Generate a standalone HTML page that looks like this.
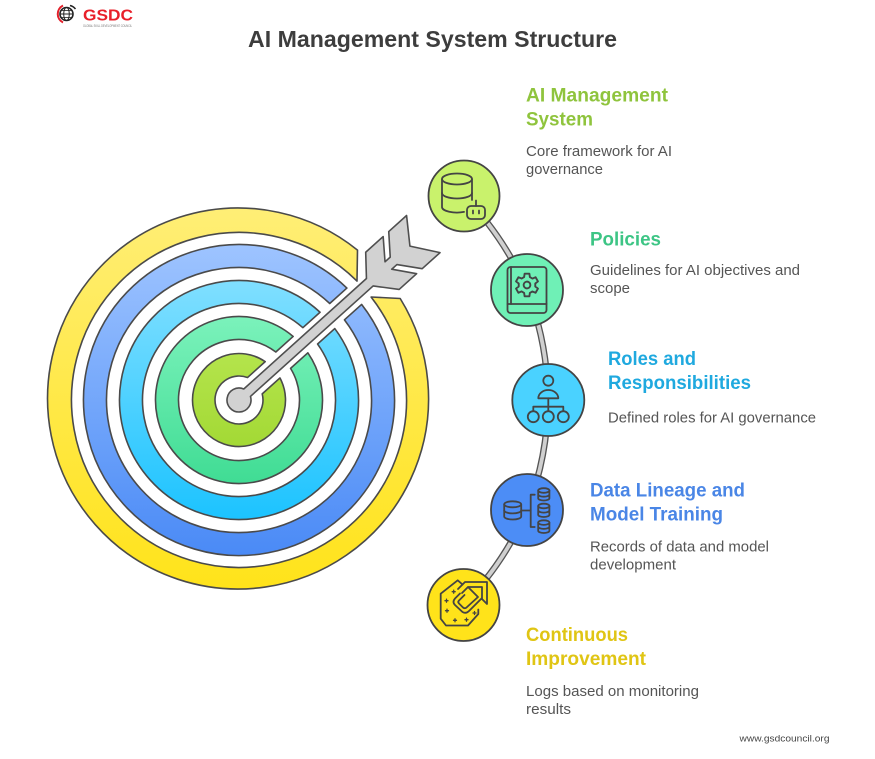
<!DOCTYPE html>
<html>
<head>
<meta charset="utf-8">
<style>
  html,body{margin:0;padding:0;background:#fff;}
  body{width:875px;height:759px;overflow:hidden;}
  svg{display:block;}
  .t{font-family:"Liberation Sans",Arial,sans-serif;}
</style>
</head>
<body>
<svg width="875" height="759" viewBox="0 0 875 759" xmlns="http://www.w3.org/2000/svg">
  <defs>
    <linearGradient id="gY" x1="0" y1="0" x2="0" y2="1">
      <stop offset="0" stop-color="#FFEE76"/>
      <stop offset="1" stop-color="#FFE31A"/>
    </linearGradient>
    <linearGradient id="gB" x1="0" y1="0" x2="0" y2="1">
      <stop offset="0" stop-color="#9EC4FF"/>
      <stop offset="1" stop-color="#4A8AF6"/>
    </linearGradient>
    <linearGradient id="gC" x1="0" y1="0" x2="0" y2="1">
      <stop offset="0" stop-color="#80DFFF"/>
      <stop offset="1" stop-color="#1CC3FF"/>
    </linearGradient>
    <linearGradient id="gG" x1="0" y1="0" x2="0" y2="1">
      <stop offset="0" stop-color="#7BF2BB"/>
      <stop offset="1" stop-color="#40DC94"/>
    </linearGradient>
    <linearGradient id="gL" x1="0" y1="0" x2="0" y2="1">
      <stop offset="0" stop-color="#B4E44C"/>
      <stop offset="1" stop-color="#A3D935"/>
    </linearGradient>
  </defs>

  <rect x="0" y="0" width="875" height="759" fill="#fff"/>

  <!-- Logo -->
  <g>
    <circle cx="66.5" cy="14" r="6.5" fill="none" stroke="#222" stroke-width="1.6"/>
    <ellipse cx="66.5" cy="14" rx="2.8" ry="6.5" fill="none" stroke="#222" stroke-width="1"/>
    <line x1="60" y1="14" x2="73" y2="14" stroke="#222" stroke-width="1"/>
    <line x1="61.5" y1="10.5" x2="71.5" y2="10.5" stroke="#222" stroke-width="0.8"/>
    <line x1="61.5" y1="17.5" x2="71.5" y2="17.5" stroke="#222" stroke-width="0.8"/>
    <path d="M 63 5.5 A 9.5 9.5 0 0 0 63 22.5" fill="none" stroke="#E3202A" stroke-width="2"/>
    <path d="M 70 5.5 A 9.5 9.5 0 0 1 75.5 9" fill="none" stroke="#222" stroke-width="1.5"/>
    <text class="t" x="83" y="20.5" font-size="16" font-weight="bold" fill="#E8202A" textLength="50" lengthAdjust="spacingAndGlyphs">GSDC</text>
    <text class="t" x="83" y="26.8" font-size="3.6" fill="#777" textLength="49" lengthAdjust="spacingAndGlyphs">GLOBAL SKILL DEVELOPMENT COUNCIL</text>
  </g>

  <!-- Title -->
  <text class="t" x="248" y="47" font-size="23" font-weight="bold" fill="#3d3d3d" textLength="369" lengthAdjust="spacingAndGlyphs">AI Management System Structure</text>

  <!-- Target rings -->
  <g stroke="#4a4a4a" stroke-width="1.6" stroke-linejoin="round">
    <path fill="url(#gY)" d="M 357.5 250.1 A 190.5 190.5 0 1 0 400.2 298.5 L 371.1 297 A 167.5 167.5 0 1 1 357 281.1 Z"/>
    <path fill="url(#gB)" d="M 346.88 288.07 A 155.5 155.5 0 1 0 361.6 304.41 L 344.47 319.84 A 132.5 132.5 0 1 1 329.75 303.5 Z"/>
    <path fill="url(#gC)" d="M 320.05 312.23 A 119.5 119.5 0 1 0 334.77 328.57 L 317.59 344.03 A 96.5 96.5 0 1 1 302.87 327.69 Z"/>
    <path fill="url(#gG)" d="M 293.14 336.46 A 83.5 83.5 0 1 0 307.86 352.8 L 290.56 368.37 A 60.5 60.5 0 1 1 275.84 352.03 Z"/>
    <path fill="url(#gL)" d="M 265.21 361.6 A 46.5 46.5 0 1 0 279.93 377.94 L 262.21 393.9 A 24 24 0 1 1 247.49 377.56 Z"/>
  </g>

  <!-- Arrow -->
  <g transform="translate(239 400) rotate(-42)">
    <path fill="#D2D2D2" stroke="#4f4f4f" stroke-width="1.6" stroke-linejoin="round"
      d="M 10.9 -5 L 176 -5 L 193 -25 L 216.5 -25 L 201 -5 L 208 -5 L 224 -25 L 248 -25 L 230 0 L 248 25 L 224 25 L 208 5 L 201 5 L 216.5 25 L 193 25 L 176 5 L 10.9 5 A 12 12 0 1 1 10.9 -5 Z"/>
  </g>

  <!-- Connector -->
  <path d="M 464 196 A 307 307 0 0 1 527 290 A 307 307 0 0 1 548 400 A 307 307 0 0 1 527 510 A 307 307 0 0 1 463 605" fill="none" stroke="#555" stroke-width="6.5"/>
  <path d="M 464 196 A 307 307 0 0 1 527 290 A 307 307 0 0 1 548 400 A 307 307 0 0 1 527 510 A 307 307 0 0 1 463 605" fill="none" stroke="#D0D0D0" stroke-width="3.8"/>

  <!-- Nodes -->
  <g stroke="#444" stroke-width="1.8">
    <circle cx="464" cy="196" r="35.5" fill="#C9F26C"/>
    <circle cx="527" cy="290" r="36" fill="#6FF0B6"/>
    <circle cx="548.3" cy="400" r="36" fill="#4AD2FF"/>
    <circle cx="527" cy="510" r="36" fill="#4C8DF6"/>
    <circle cx="463.5" cy="605" r="36" fill="#FFE31A"/>
  </g>

  <!-- Icons -->
  <g fill="none" stroke="#444" stroke-width="1.8" stroke-linecap="round" stroke-linejoin="round">
    <!-- Node1: database + robot -->
    <ellipse cx="457" cy="179" rx="15" ry="5.5"/>
    <path d="M 442 179 V 207 A 15 5.5 0 0 0 464 211.9"/>
    <path d="M 472 179 V 200"/>
    <path d="M 442 193 A 15 5.5 0 0 0 472 193"/>
    <rect x="467" y="206" width="18" height="13" rx="4"/>
    <path d="M 476 200.5 V 206"/>
    <path d="M 473 210.5 V 213.5 M 479 210.5 V 213.5"/>

    <!-- Node2: book + gear -->
    <rect x="507.5" y="267" width="39" height="46" rx="3"/>
    <path d="M 507.5 304 H 546.5"/>
    <path d="M 511 267 V 304"/>
    <g transform="translate(527 285) rotate(30) scale(1.05)">
      <path d="M 7.52 -2.74 L 10.76 -2.29 L 10.76 2.29 L 7.52 2.74 L 6.13 5.14 L 7.36 8.17 L 3.40 10.46 L 1.39 7.88 L -1.39 7.88 L -3.40 10.46 L -7.36 8.17 L -6.13 5.14 L -7.52 2.74 L -10.76 2.29 L -10.76 -2.29 L -7.52 -2.74 L -6.13 -5.14 L -7.36 -8.17 L -3.40 -10.46 L -1.39 -7.88 L 1.39 -7.88 L 3.40 -10.46 L 7.36 -8.17 L 6.13 -5.14 Z"/>
      <circle cx="0" cy="0" r="3.2"/>
    </g>

    <!-- Node3: org chart -->
    <circle cx="548.3" cy="380.7" r="5"/>
    <path d="M 538.3 398.3 A 10 8.3 0 0 1 558.3 398.3 Z"/>
    <path d="M 548.3 398.3 V 411 M 533.3 411 V 406.7 H 563.3 V 411"/>
    <circle cx="533.3" cy="416.7" r="5.5"/>
    <circle cx="548.3" cy="416.7" r="5.5"/>
    <circle cx="563.3" cy="416.7" r="5.5"/>

    <!-- Node4: data lineage -->
    <ellipse cx="512.7" cy="504.3" rx="8.5" ry="3"/>
    <path d="M 504.2 504.3 V 516.5 A 8.5 3 0 0 0 521.2 516.5 V 504.3"/>
    <path d="M 504.2 510.4 A 8.5 3 0 0 0 521.2 510.4"/>
    <path d="M 521.3 510.5 H 530.7"/>
    <path d="M 534.7 494.7 H 530.7 V 527 H 534.7"/>
    <ellipse cx="543.8" cy="490.5" rx="5.6" ry="2.3"/>
    <path d="M 538.2 490.5 V 498.2 A 5.6 2.3 0 0 0 549.4 498.2 V 490.5 M 538.2 494.4 A 5.6 2.3 0 0 0 549.4 494.4"/>
    <ellipse cx="543.8" cy="506" rx="5.6" ry="2.3"/>
    <path d="M 538.2 506 V 514.7 A 5.6 2.3 0 0 0 549.4 514.7 V 506 M 538.2 510.3 A 5.6 2.3 0 0 0 549.4 510.3"/>
    <ellipse cx="543.8" cy="522.6" rx="5.6" ry="2.3"/>
    <path d="M 538.2 522.6 V 530.7 A 5.6 2.3 0 0 0 549.4 530.7 V 522.6 M 538.2 526.6 A 5.6 2.3 0 0 0 549.4 526.6"/>

    <!-- Node5: continuous improvement -->
    <path d="M 462.5 584.5 L 457.7 580.3 L 440.7 593.7 L 440.7 618.7 L 446 625.5 L 468 625.5 L 478.3 614 L 478.3 609.5"/>
    <path d="M 458 589 L 465 582 L 487 582 L 487 604 L 481.5 598.5 L 469 611 Q 466 614 462.5 612 L 455 605 Q 452 602 455 598.5 L 460 593.5"/>
    <path d="M 462 593 L 468 587 L 482 587 L 482 599 M 468 587 L 478 597 L 466.5 607.5 Q 465 609 463 607.5 L 459 603.5 Q 457.5 602 459 600.5 L 464.5 595"/>
  </g>
  <g stroke="#444" stroke-width="1.3" stroke-linecap="round">
    <path d="M 453.7 590.2 V 593.2 M 452.2 591.7 H 455.2"/>
    <path d="M 446.5 599.2 V 602.2 M 445 600.7 H 448"/>
    <path d="M 447 609.2 V 612.2 M 445.5 610.7 H 448.5"/>
    <path d="M 455 618.8 V 621.8 M 453.5 620.3 H 456.5"/>
    <path d="M 466.5 618.2 V 621.2 M 465 619.7 H 468"/>
    <path d="M 474.5 611.5 V 614.5 M 473 613 H 476"/>
  </g>

  <!-- Labels -->
  <g class="t" font-weight="bold" font-size="19.5">
    <text x="526" y="101.5" fill="#8FC43D" textLength="142" lengthAdjust="spacingAndGlyphs">AI Management</text>
    <text x="526" y="125.5" fill="#8FC43D" textLength="67" lengthAdjust="spacingAndGlyphs">System</text>
    <text x="590" y="245.5" fill="#3DC585" textLength="71" lengthAdjust="spacingAndGlyphs">Policies</text>
    <text x="608" y="365" fill="#1FA9DF" textLength="88" lengthAdjust="spacingAndGlyphs">Roles and</text>
    <text x="608" y="389" fill="#1FA9DF" textLength="143" lengthAdjust="spacingAndGlyphs">Responsibilities</text>
    <text x="590" y="496.5" fill="#4A86E6" textLength="155" lengthAdjust="spacingAndGlyphs">Data Lineage and</text>
    <text x="590" y="520.5" fill="#4A86E6" textLength="133" lengthAdjust="spacingAndGlyphs">Model Training</text>
    <text x="526" y="641" fill="#E0C514" textLength="102" lengthAdjust="spacingAndGlyphs">Continuous</text>
    <text x="526" y="665" fill="#E0C514" textLength="120" lengthAdjust="spacingAndGlyphs">Improvement</text>
  </g>
  <g class="t" font-size="15" fill="#555">
    <text x="526" y="156" textLength="146" lengthAdjust="spacingAndGlyphs">Core framework for AI</text>
    <text x="526" y="174" textLength="77" lengthAdjust="spacingAndGlyphs">governance</text>
    <text x="590" y="275" textLength="210" lengthAdjust="spacingAndGlyphs">Guidelines for AI objectives and</text>
    <text x="590" y="293" textLength="40" lengthAdjust="spacingAndGlyphs">scope</text>
    <text x="608" y="422.5" textLength="208" lengthAdjust="spacingAndGlyphs">Defined roles for AI governance</text>
    <text x="590" y="551.5" textLength="179" lengthAdjust="spacingAndGlyphs">Records of data and model</text>
    <text x="590" y="569.5" textLength="86" lengthAdjust="spacingAndGlyphs">development</text>
    <text x="526" y="696" textLength="173" lengthAdjust="spacingAndGlyphs">Logs based on monitoring</text>
    <text x="526" y="714" textLength="45" lengthAdjust="spacingAndGlyphs">results</text>
  </g>
  <text class="t" x="739.5" y="741.5" font-size="9.5" fill="#444" textLength="90" lengthAdjust="spacingAndGlyphs">www.gsdcouncil.org</text>
</svg>
</body>
</html>
